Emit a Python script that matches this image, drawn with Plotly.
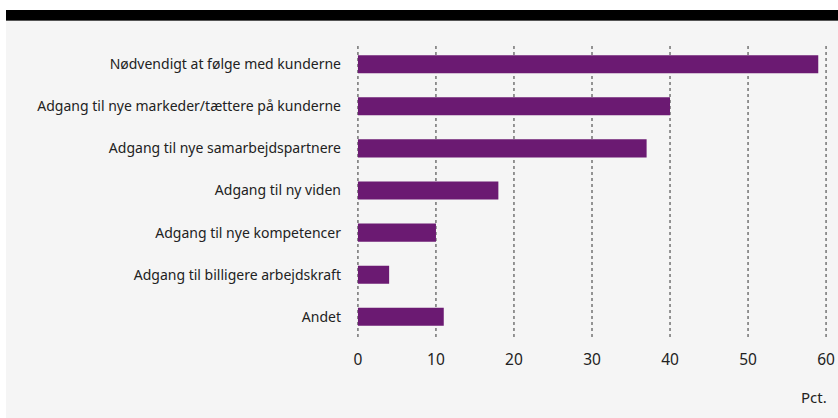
import plotly.graph_objects as go

categories = [
    "Nødvendigt at følge med kunderne",
    "Adgang til nye markeder/tættere på kunderne",
    "Adgang til nye samarbejdspartnere",
    "Adgang til ny viden",
    "Adgang til nye kompetencer",
    "Adgang til billigere arbejdskraft",
    "Andet",
]
values = [59, 40, 37, 18, 10, 4, 11]
tick_vals = [0, 10, 20, 30, 40, 50, 60]

W, H = 838, 418
L, R, T, B = 357, 827, 44, 337
pw, ph = R - L, B - T

def px(x):
    return (x - L) / pw

def py(y):
    return (B - y) / ph

fig = go.Figure(go.Bar(
    x=values, y=categories, orientation="h",
    marker=dict(color="#6b1a72", line=dict(width=0)),
    width=0.43, hoverinfo="x+y",
))

shapes = [
    dict(type="rect", xref="paper", yref="paper", layer="below",
         x0=px(6), x1=px(838), y0=py(418), y1=py(21),
         fillcolor="#f5f5f5", line=dict(width=0)),
    dict(type="rect", xref="paper", yref="paper", layer="below",
         x0=px(6), x1=px(838), y0=py(21), y1=py(10),
         fillcolor="#000000", line=dict(width=0)),
    dict(type="line", xref="paper", yref="paper", layer="below",
         x0=px(6), x1=px(838), y0=py(20.5), y1=py(20.5),
         line=dict(color="#555", width=1)),
]
for v in tick_vals:
    shapes.append(dict(type="line", xref="x", yref="paper", layer="below",
                       x0=v, x1=v, y0=0, y1=1,
                       line=dict(color="#333", width=1, dash="dot")))

fig.update_layout(
    width=W, height=H,
    margin=dict(l=L, r=W - R, t=T, b=H - B, autoexpand=False),
    paper_bgcolor="white", plot_bgcolor="rgba(0,0,0,0)",
    font=dict(family="Noto Sans", size=14, color="#222"),
    showlegend=False,
    shapes=shapes,
    annotations=[
        dict(text="Pct.", xref="paper", yref="paper", x=px(829), y=py(397),
             xanchor="right", yanchor="middle", showarrow=False,
             font=dict(size=15, color="#222")),
    ],
)

fig.update_xaxes(
    range=[-0.12, 60.12], tickvals=tick_vals, ticktext=[str(v) for v in tick_vals],
    showgrid=False, zeroline=False, showline=False, ticks="", ticklabelstandoff=11,
    tickfont=dict(size=15.5, color="#222"), fixedrange=True,
)
fig.update_yaxes(
    range=[6.48, -0.48], showgrid=False, zeroline=False, showline=False,
    ticks="", ticklabelstandoff=15, tickfont=dict(size=14, color="#222"),
    fixedrange=True,
)

fig.write_html(
    "out.html",
    config={"displayModeBar": False},
    post_script="document.body.style.margin='0';document.body.style.overflow='hidden';",
)
